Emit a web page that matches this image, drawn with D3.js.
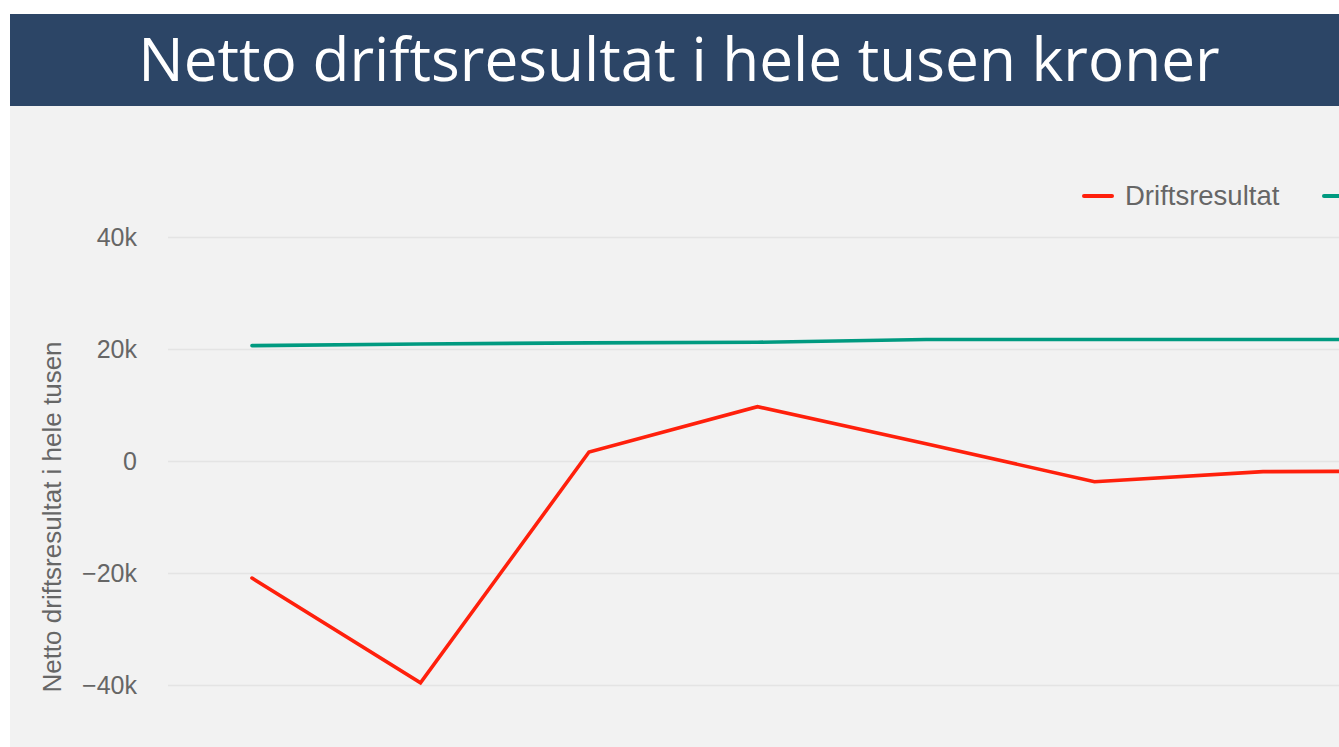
<!DOCTYPE html>
<html>
<head>
<meta charset="utf-8">
<script src="https://cdn.jsdelivr.net/npm/d3@7"></script>
<style>
  html, body { margin: 0; padding: 0; background: #ffffff; overflow: hidden; }
  svg { display: block; }
</style>
</head>
<body>
<script>
// ---- data ----
const categories = ["2015", "2016", "2017", "2018", "2019", "2020", "2021", "2022"];
const driftsresultat = [-20900, -39600, 1600, 9700, 3100, -3700, -1900, -1800];
const referanse = [20600, 20900, 21100, 21200, 21700, 21700, 21700, 21700];
const yTicks = [-40000, -20000, 0, 20000, 40000];
const seriesNames = ["Driftsresultat", "Anbefalt nivå"];
const titleText = "Netto driftsresultat i hele tusen kroner";
const yAxisTitle = "Netto driftsresultat i hele tusen";

// ---- layout ----
const W = 1339, H = 747;
const svg = d3.select("body").append("svg").attr("width", W).attr("height", H);

svg.append("rect").attr("x", 10).attr("y", 106).attr("width", W).attr("height", H)
  .attr("fill", "#f2f2f2");
svg.append("rect").attr("x", 10).attr("y", 14).attr("width", W).attr("height", 92)
  .attr("fill", "#2c4566");
svg.append("text").attr("x", 679).attr("y", 81).attr("text-anchor", "middle")
  .attr("font-family", "'Open Sans', sans-serif").attr("font-size", 60.3)
  .attr("fill", "#ffffff").text(titleText);

const x = d3.scalePoint().domain(categories).range([252, 252 + 7 * 168.5]);
const y = d3.scaleLinear().domain([-50000, 50000]).range([741, 181]);

const fmt = v => v === 0 ? "0" : (v < 0 ? "\u2212" : "") + Math.abs(v / 1000) + "k";

// gridlines + tick labels via axis
const yAxis = d3.axisLeft(y).tickValues(yTicks).tickFormat(fmt)
  .tickSize(-(W - 168)).tickPadding(31);
const gy = svg.append("g").attr("transform", "translate(168,0)").call(yAxis);
gy.select(".domain").remove();
gy.selectAll(".tick line").attr("stroke", "#e4e4e4").attr("stroke-width", 1.3);
gy.selectAll(".tick text").attr("fill", "#666666")
  .attr("font-family", "'Liberation Sans', Arial, sans-serif").attr("font-size", 25);

// y axis title
svg.append("text")
  .attr("transform", "translate(61,517) rotate(-90)")
  .attr("text-anchor", "middle")
  .attr("font-family", "'Liberation Sans', Arial, sans-serif").attr("font-size", 26)
  .attr("fill", "#666666").text(yAxisTitle);

// lines
const colors = ["#ff200c", "#009a80"];
const seriesData = [driftsresultat, referanse];
const line = d3.line().x((d, i) => x(categories[i])).y(d => y(d));
seriesData.forEach((s, k) => {
  svg.append("path").datum(s).attr("d", line)
    .attr("fill", "none").attr("stroke", colors[k]).attr("stroke-width", 3.6)
    .attr("stroke-linejoin", "miter").attr("stroke-linecap", "round");
});

// legend (second label lies outside the visible frame in the reference)
const legendX = [1084, 1324];
seriesNames.forEach((name, k) => {
  const g = svg.append("g").attr("transform", `translate(${legendX[k]},196)`);
  g.append("line").attr("x1", 0).attr("x2", 28).attr("y1", 0).attr("y2", 0)
    .attr("stroke", colors[k]).attr("stroke-width", 4).attr("stroke-linecap", "round");
  if (k === 0) {
    g.append("text").attr("x", 41).attr("y", 9)
      .attr("font-family", "'Liberation Sans', Arial, sans-serif").attr("font-size", 27.5)
      .attr("fill", "#666666").text(name);
  }
});
</script>
</body>
</html>
